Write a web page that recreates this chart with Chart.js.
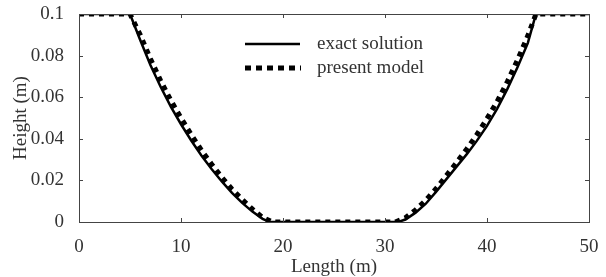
<!DOCTYPE html>
<html>
<head>
<meta charset="utf-8">
<script src="https://cdn.jsdelivr.net/npm/chart.js@4/dist/chart.umd.min.js"></script>
<style>
  html, body { margin: 0; padding: 0; background: #fff; }
  #wrap { width: 606px; height: 277px; position: relative; }
</style>
</head>
<body>
<div id="wrap"><canvas id="chart"></canvas></div>
<script>
// exact solution
const exactX = [0, 5, 6, 7, 8, 9, 10, 11, 12, 13, 14, 15, 16, 17, 18, 18.7,
  31.3, 32, 33, 34, 35, 36, 37, 38, 39, 40, 41, 42, 43, 44, 44.8, 50];
const exactH = [0.1, 0.1, 0.0875, 0.0755, 0.065, 0.0555, 0.047, 0.0392, 0.032, 0.0255, 0.0195, 0.014, 0.0092, 0.005, 0.0015, 0,
  0, 0.0012, 0.0045, 0.0088, 0.0145, 0.0205, 0.0265, 0.0325, 0.039, 0.0462, 0.0545, 0.064, 0.0745, 0.086, 0.1, 0.1];

// present model
const modelX = [0, 5, 6, 7, 8, 9, 10, 11, 12, 13, 14, 15, 16, 17, 18, 19,
  31, 32, 33, 34, 35, 36, 37, 38, 39, 40, 41, 42, 43, 44, 44.8, 50];
const modelH = [0.1, 0.1, 0.09, 0.0785, 0.068, 0.0585, 0.05, 0.042, 0.0345, 0.0278, 0.0215, 0.0158, 0.0108, 0.0062, 0.0022, 0,
  0, 0.002, 0.0058, 0.0105, 0.016, 0.0222, 0.0285, 0.035, 0.042, 0.0497, 0.058, 0.0675, 0.078, 0.0895, 0.1, 0.1];

const xTicks = [0, 10, 20, 30, 40, 50];
const yTicks = [0, 0.02, 0.04, 0.06, 0.08, 0.1];
const seriesNames = ['exact solution', 'present model'];

const FONT = 'Liberation Serif';
const FS = 19;
const TXT = '#333';

function pts(xs, ys) {
  return xs.map((x, i) => ({ x: x, y: ys[i] }));
}

// box around the plot, inward ticks, and the legend
const framePlugin = {
  id: 'frame',
  afterDatasetsDraw(chart) {
    const ctx = chart.ctx;
    const a = chart.chartArea;
    const xs = chart.scales.x, ys = chart.scales.y;
    ctx.save();
    ctx.strokeStyle = '#444';
    ctx.lineWidth = 1;
    ctx.strokeRect(a.left + 0.5, a.top + 0.5, a.right - a.left, a.bottom - a.top);
    ctx.beginPath();
    xTicks.slice(1, -1).forEach(v => {
      const p = Math.round(xs.getPixelForValue(v)) + 0.5;
      ctx.moveTo(p, a.bottom); ctx.lineTo(p, a.bottom - 4);
      ctx.moveTo(p, a.top); ctx.lineTo(p, a.top + 4);
    });
    yTicks.slice(1, -1).forEach(v => {
      const p = Math.round(ys.getPixelForValue(v)) + 0.5;
      ctx.moveTo(a.left, p); ctx.lineTo(a.left + 4, p);
      ctx.moveTo(a.right, p); ctx.lineTo(a.right - 4, p);
    });
    ctx.stroke();

    // legend
    const lx = a.left + 166, ly = a.top + 30;
    ctx.strokeStyle = '#000';
    ctx.lineWidth = 2.5;
    ctx.beginPath();
    ctx.moveTo(lx, ly); ctx.lineTo(lx + 55, ly);
    ctx.stroke();
    ctx.lineWidth = 5;
    ctx.setLineDash([6, 5]);
    ctx.beginPath();
    ctx.moveTo(lx, ly + 24); ctx.lineTo(lx + 56, ly + 24);
    ctx.stroke();
    ctx.setLineDash([]);
    ctx.fillStyle = TXT;
    ctx.font = FS + 'px "' + FONT + '"';
    ctx.textBaseline = 'middle';
    ctx.fillText(seriesNames[0], lx + 72, ly);
    ctx.fillText(seriesNames[1], lx + 72, ly + 24);
    ctx.restore();
  }
};

new Chart(document.getElementById('chart'), {
  type: 'line',
  data: {
    datasets: [{
      label: seriesNames[0],
      data: pts(exactX, exactH),
      borderColor: '#000',
      borderWidth: 2.5,
      pointRadius: 0,
      tension: 0
    }, {
      label: seriesNames[1],
      data: pts(modelX, modelH),
      borderColor: '#000',
      borderWidth: 5,
      borderDash: [5, 5],
      pointRadius: 0,
      tension: 0
    }]
  },
  options: {
    responsive: true,
    maintainAspectRatio: false,
    animation: false,
    layout: { padding: { left: 0, right: 17, top: 14, bottom: 0 } },
    plugins: { legend: { display: false }, tooltip: { enabled: false } },
    scales: {
      x: {
        type: 'linear',
        min: 0, max: 50,
        afterFit(s) { s.height = 55; s.paddingLeft = 0; s.paddingRight = 0; },
        afterBuildTicks(s) { s.ticks = xTicks.map(v => ({ value: v })); },
        grid: { display: false },
        border: { display: false },
        ticks: { color: TXT, font: { family: FONT, size: FS, lineHeight: 1 }, padding: 8, maxRotation: 0 },
        title: { display: true, text: 'Length (m)', color: TXT, font: { family: FONT, size: FS, lineHeight: 1 }, padding: { top: 0, bottom: 0 } }
      },
      y: {
        min: 0, max: 0.1,
        afterFit(s) { s.width = 79; s.paddingTop = 0; s.paddingBottom = 0; },
        afterBuildTicks(s) { s.ticks = yTicks.map(v => ({ value: v })); },
        grid: { display: false },
        border: { display: false },
        ticks: { color: TXT, font: { family: FONT, size: FS, lineHeight: 1 }, padding: 7, callback: v => String(v) },
        title: { display: true, text: 'Height (m)', color: TXT, font: { family: FONT, size: FS }, padding: { top: 10, bottom: 0 } }
      }
    }
  },
  plugins: [framePlugin]
});
</script>
</body>
</html>
